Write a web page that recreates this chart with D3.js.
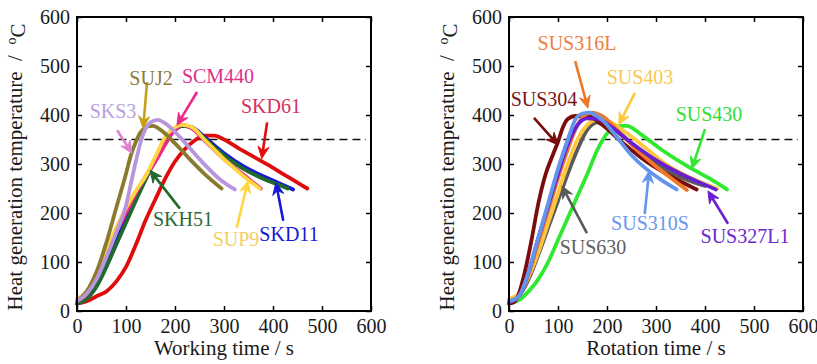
<!DOCTYPE html>
<html>
<head>
<meta charset="utf-8">
<script src="https://cdn.jsdelivr.net/npm/d3@7"></script>
<style>
  body { margin: 0; background: #fff; }
  svg text { font-family: "Liberation Serif", Tinos, serif; }
</style>
</head>
<body>
<div id="chart"></div>
<script>
// ---- data: [time (s), temperature (degC)] ----
var skd61 = [[0,15],[20,20],[40,30],[60,40],[80,60],[100,90],[120,135],[140,185],[160,228],[180,270],[200,305],[220,330],[240,348],[260,358],[280,358],[300,350],[330,332],[360,315],[390,298],[420,280],[450,262],[470,250]];
var skd11 = [[0,15],[20,30],[40,60],[60,105],[80,150],[100,190],[120,230],[140,270],[160,310],[180,345],[200,370],[215,378],[235,375],[260,355],[300,322],[340,295],[380,275],[410,262],[441,248]];
var skh51 = [[0,15],[20,25],[40,50],[60,90],[80,135],[100,180],[120,225],[140,268],[160,308],[180,345],[200,370],[215,378],[235,374],[260,352],[300,318],[340,290],[380,270],[410,258],[430,250]];
var scm440 = [[0,20],[20,35],[40,70],[60,115],[80,160],[100,200],[120,240],[140,275],[160,305],[180,340],[200,370],[215,380],[235,372],[260,348],[300,310],[340,278],[375,250]];
var sup9 = [[0,25],[20,40],[40,80],[60,125],[80,170],[100,210],[120,245],[140,275],[160,315],[180,355],[200,375],[215,380],[235,375],[260,350],[300,310],[340,275],[373,250]];
var suj2 = [[0,20],[20,40],[40,80],[60,140],[80,210],[100,280],[110,318],[120,345],[130,365],[145,377],[155,378],[170,370],[200,342],[230,310],[260,280],[295,250]];
var sks3 = [[0,20],[20,35],[40,65],[60,110],[80,160],[100,215],[110,260],[120,305],[130,345],[140,372],[150,385],[165,390],[180,383],[210,355],[250,310],[290,270],[322,248]];

var sus304 = [[0,15],[10,18],[20,35],[30,70],[45,140],[60,220],[75,280],[90,320],[100,345],[110,375],[120,392],[135,398],[160,398],[190,380],[230,345],[280,305],[330,275],[383,248]];
var sus310s = [[0,20],[20,30],[40,80],[60,150],[80,220],[100,290],[120,350],[135,390],[150,403],[165,405],[190,390],[220,355],[250,318],[280,290],[310,268],[342,248]];
var sus316l = [[0,18],[20,30],[40,75],[60,140],[80,205],[100,270],[120,330],[140,380],[155,400],[170,405],[190,398],[220,370],[260,330],[300,295],[335,268],[363,247]];
var sus327l1 = [[0,18],[20,30],[40,80],[60,150],[80,215],[100,280],[120,340],[140,380],[160,393],[180,392],[210,375],[250,343],[300,308],[350,280],[390,262],[422,248]];
var sus630 = [[0,20],[20,30],[40,65],[60,115],[80,170],[100,225],[120,280],[140,330],[160,370],[180,385],[200,380],[240,350],[290,310],[340,278],[400,255]];
var sus403 = [[0,25],[20,35],[40,70],[60,120],[80,180],[100,240],[120,300],[140,350],[160,380],[180,390],[200,388],[230,370],[270,340],[320,300],[370,272],[425,250]];
var sus430 = [[0,15],[20,22],[40,40],[60,65],[80,100],[100,145],[120,190],[140,235],[160,280],[180,328],[200,362],[220,378],[240,378],[270,360],[310,330],[370,292],[410,270],[445,248]];

var xTicks = [0, 100, 200, 300, 400, 500, 600];
var yTicks = [0, 100, 200, 300, 400, 500, 600];
var limitTemp = 350;

var serif = '"Liberation Serif", Tinos, serif';

// series in drawing order, with label text and arrow (data coords)
var leftSeries = [
  {name: "SKD61", pts: skd61, color: "#e00c0c", text: "#d8305a", label: [271, 113], arrow: [[388,385],[377,311]]},
  {name: "SKD11", pts: skd11, color: "#1818d8", text: "#1818d0", label: [289, 241], arrow: [[421,184],[406,262]]},
  {name: "SKH51", pts: skh51, color: "#1f6a2c", text: "#2a6a3a", label: [183, 226], arrow: [[210,209],[149,287]]},
  {name: "SCM440", pts: scm440, color: "#f0288c", text: "#e0308a", label: [218, 83], arrow: [[245,447],[204,379]]},
  {name: "SUP9", pts: sup9, color: "#ffd640", text: "#f5cf60", label: [236, 246], arrow: [[326,170],[349,266]]},
  {name: "SUJ2", pts: suj2, color: "#8a7a30", text: "#8c7a3c", arrowColor: "#c8a018", label: [151, 85], arrow: [[143,467],[135,373]]},
  {name: "SKS3", pts: sks3, color: "#b896dc", text: "#b8a0e0", arrowColor: "#e080d0", label: [113, 118], arrow: [[82,369],[112,322]]}
];

var rightSeries = [
  {name: "SUS630", pts: sus630, color: "#5a5a5a", text: "#606060", label: [593, 254], arrow: [[159,159],[108,255]]},
  {name: "SUS430", pts: sus430, color: "#30e830", text: "#30e030", label: [709, 121], arrow: [[400,371],[373,290]]},
  {name: "SUS403", pts: sus403, color: "#ffc83c", text: "#f8c850", label: [640, 84], arrow: [[257,445],[224,380]]},
  {name: "SUS304", pts: sus304, color: "#7a0c0c", text: "#7b1414", label: [544, 106], arrow: [[51,394],[100,339]]},
  {name: "SUS316L", pts: sus316l, color: "#f07828", text: "#f08040", label: [577, 50], arrow: [[135,510],[161,414]]},
  {name: "SUS327L1", pts: sus327l1, color: "#6a1ed2", text: "#6a28d0", label: [745, 243], arrow: [[447,178],[406,245]]},
  {name: "SUS310S", pts: sus310s, color: "#6495ed", text: "#6a96f0", label: [650, 230], arrow: [[277,198],[286,286]]}
];

var svg = d3.select("#chart").append("svg")
  .attr("width", 817)
  .attr("height", 364);

function drawPanel(left, xTitle, series) {
  var plot = {left: left, right: left + 294, top: 17, bottom: 311};

  var x = d3.scaleLinear().domain([0, 600]).range([plot.left, plot.right]);
  var y = d3.scaleLinear().domain([0, 600]).range([plot.bottom, plot.top]);

  var g = svg.append("g");

  // axes with inward ticks on all four sides
  g.append("g")
    .attr("transform", `translate(0,${plot.bottom})`)
    .call(d3.axisBottom(x).tickValues(xTicks).tickSizeInner(-5).tickSizeOuter(0).tickPadding(8));
  g.append("g")
    .attr("transform", `translate(${plot.left},0)`)
    .call(d3.axisLeft(y).tickValues(yTicks).tickSizeInner(-5).tickSizeOuter(0).tickPadding(7));
  g.append("g")
    .attr("transform", `translate(0,${plot.top})`)
    .call(d3.axisTop(x).tickValues(xTicks).tickSizeInner(-5).tickSizeOuter(0).tickFormat(""));
  g.append("g")
    .attr("transform", `translate(${plot.right},0)`)
    .call(d3.axisRight(y).tickValues(yTicks).tickSizeInner(-5).tickSizeOuter(0).tickFormat(""));

  g.selectAll("g").attr("font-family", serif);
  g.selectAll(".domain").remove();
  g.selectAll(".tick line").attr("stroke", "#000").attr("stroke-width", 1.5);
  g.selectAll(".tick text")
    .attr("fill", "#1a1a1a")
    .attr("font-family", serif)
    .attr("font-size", 20);

  // 350 degC reference line
  g.append("line")
    .attr("x1", x(5)).attr("x2", x(590))
    .attr("y1", y(limitTemp)).attr("y2", y(limitTemp))
    .attr("stroke", "#111")
    .attr("stroke-width", 1.6)
    .attr("stroke-dasharray", "8,5");

  var line = d3.line()
    .x(d => x(d[0]))
    .y(d => y(d[1]))
    .curve(d3.curveMonotoneX);

  g.selectAll(".curve")
    .data(series)
    .enter()
    .append("path")
    .attr("class", "curve")
    .attr("d", d => line(d.pts))
    .attr("fill", "none")
    .attr("stroke", d => d.color)
    .attr("stroke-width", 3.8)
    .attr("stroke-linecap", "round")
    .attr("stroke-linejoin", "round");

  // arrows pointing from labels to curves
  series.forEach(function(s) {
    var c = s.arrowColor || s.color;
    var x1 = x(s.arrow[0][0]), y1 = y(s.arrow[0][1]);
    var x2 = x(s.arrow[1][0]), y2 = y(s.arrow[1][1]);
    var a = Math.atan2(y2 - y1, x2 - x1);
    var len = 12, half = 5.5, notch = 8;
    var bx = x2 - len * Math.cos(a), by = y2 - len * Math.sin(a);
    var nx = x2 - notch * Math.cos(a), ny = y2 - notch * Math.sin(a);
    var px = -Math.sin(a), py = Math.cos(a);
    g.append("line")
      .attr("x1", x1).attr("y1", y1)
      .attr("x2", nx).attr("y2", ny)
      .attr("stroke", c)
      .attr("stroke-width", 2.6);
    g.append("path")
      .attr("d", `M${x2},${y2}L${bx + px * half},${by + py * half}L${nx},${ny}L${bx - px * half},${by - py * half}Z`)
      .attr("fill", c)
      .attr("stroke", c)
      .attr("stroke-width", 1)
      .attr("stroke-linejoin", "round");

    g.append("text")
      .attr("x", s.label[0])
      .attr("y", s.label[1])
      .attr("text-anchor", "middle")
      .attr("fill", s.text)
      .attr("font-family", serif)
      .attr("font-size", 20)
      .text(s.name);
  });

  // frame
  g.append("rect")
    .attr("x", plot.left).attr("y", plot.top)
    .attr("width", plot.right - plot.left)
    .attr("height", plot.bottom - plot.top)
    .attr("fill", "none")
    .attr("stroke", "#000")
    .attr("stroke-width", 2);

  // axis titles
  g.append("text")
    .attr("x", (plot.left + plot.right) / 2)
    .attr("y", 355)
    .attr("text-anchor", "middle")
    .attr("fill", "#1a1a1a")
    .attr("font-family", serif)
    .attr("font-size", 21)
    .text(xTitle);

  var yt = g.append("text")
    .attr("transform", `translate(${plot.left - 55},${(plot.top + plot.bottom) / 2 + 3}) rotate(-90)`)
    .attr("text-anchor", "middle")
    .attr("fill", "#1a1a1a")
    .attr("font-family", serif)
    .attr("font-size", 21)
    .attr("xml:space", "preserve")
    .style("white-space", "pre");
  yt.append("tspan").text("Heat generation temperature  /  ");
  yt.append("tspan").attr("dy", "-0.45em").attr("font-size", 14).text("o");
  yt.append("tspan").attr("dy", "0.45em").text("C");
}

drawPanel(77, "Working time / s", leftSeries);
drawPanel(509, "Rotation time / s", rightSeries);
</script>
</body>
</html>
